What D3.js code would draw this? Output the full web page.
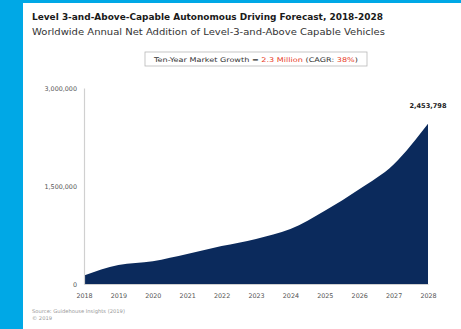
<!DOCTYPE html>
<html><head><meta charset="utf-8">
<script src="https://cdn.jsdelivr.net/npm/d3@7"></script>
<style>html,body{margin:0;padding:0;background:#00a8e6;}svg{display:block;}</style>
</head><body>
<svg id="c" width="461" height="329"></svg>
<script>
const years = ["2018","2019","2020","2021","2022","2023","2024","2025","2026","2027","2028"];
const values = [130000, 290000, 350000, 460000, 580000, 690000, 840000, 1120000, 1450000, 1830000, 2453798];
const yTicks = [0, 1500000, 3000000];
const title = "Level 3-and-Above-Capable Autonomous Driving Forecast, 2018-2028";
const subtitle = "Worldwide Annual Net Addition of Level-3-and-Above Capable Vehicles";
const growthParts = [["Ten-Year Market Growth = ", "#333"], ["2.3 Million", "#e8402a"], [" (CAGR: ", "#333"], ["38%", "#e8402a"], [")", "#333"]];
const sourceLines = ["Source: Guidehouse Insights (2019)", "© 2019"];

const F = "DejaVu Sans, Verdana, sans-serif";
const svg = d3.select("#c");
svg.append("rect").attr("x",23).attr("y",3).attr("width",438).attr("height",326).attr("fill","#ffffff");

svg.append("text").attr("x",32).attr("y",20).attr("font-family",F)
  .attr("font-size",8.6).attr("font-weight","bold").attr("fill","#1a1a1a")
  .attr("textLength",351).attr("lengthAdjust","spacingAndGlyphs").text(title);
svg.append("text").attr("x",32).attr("y",35).attr("font-family",F)
  .attr("font-size",8.2).attr("fill","#333")
  .attr("textLength",353).attr("lengthAdjust","spacingAndGlyphs").text(subtitle);

// growth box
svg.append("rect").attr("x",145).attr("y",52).attr("width",222).attr("height",14)
  .attr("fill","#fff").attr("stroke","#b8b8b8").attr("stroke-width",0.8);
const gt = svg.append("text").attr("x",256).attr("y",61.5).attr("text-anchor","middle")
  .attr("font-family",F).attr("font-size",6.4)
  .attr("textLength",204).attr("lengthAdjust","spacingAndGlyphs");
growthParts.forEach(p => gt.append("tspan").attr("fill",p[1]).text(p[0]));

const x = d3.scalePoint().domain(years).range([84, 428]);
const y = d3.scaleLinear().domain([0, 3000000]).range([284, 88]);

const area = d3.area().x((d,i)=>x(years[i])).y0(y(0)).y1(d=>y(d)).curve(d3.curveMonotoneX);
svg.append("path").datum(values).attr("d",area).attr("fill","#0b2a5c");

const yAxis = svg.append("g").attr("transform","translate(84,0)")
  .call(d3.axisLeft(y).tickValues(yTicks).tickSize(0).tickPadding(7).tickFormat(d3.format(",")));
yAxis.select(".domain").attr("stroke","#d0d0d0").attr("stroke-width",1.2);
yAxis.selectAll("text").attr("font-family",F).attr("font-size",6.4).attr("fill","#555");

const xAxis = svg.append("g").attr("transform","translate(0,284)")
  .call(d3.axisBottom(x).tickSize(0).tickPadding(9));
xAxis.select(".domain").attr("stroke","#d0d0d0").attr("stroke-width",1);
xAxis.selectAll("text").attr("font-family",F).attr("font-size",6.4).attr("fill","#555");

svg.append("text").attr("x",x(years[years.length-1])).attr("y",y(values[values.length-1])-16)
  .attr("text-anchor","middle").attr("font-family",F)
  .attr("font-size",6.6).attr("font-weight","bold").attr("fill","#222").text(d3.format(",")(values[values.length-1]));

sourceLines.forEach((s,i)=>svg.append("text").attr("x",32).attr("y",313+i*6.5)
  .attr("font-family",F).attr("font-size",5.2).attr("fill","#999").text(s));
</script>
</body></html>
